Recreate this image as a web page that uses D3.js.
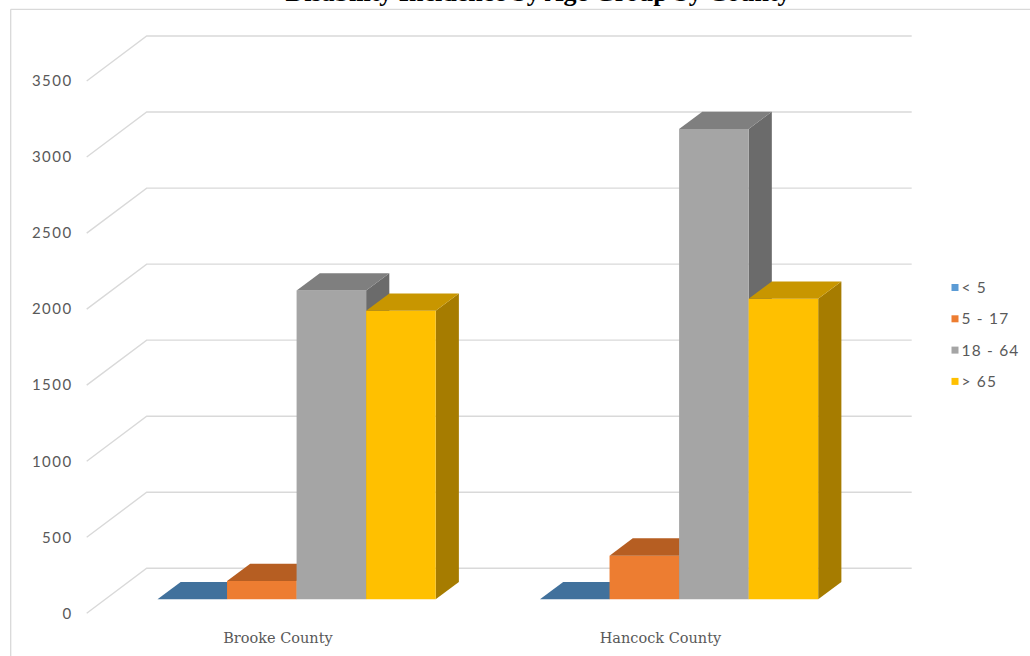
<!DOCTYPE html>
<html>
<head>
<meta charset="utf-8">
<script src="https://cdn.jsdelivr.net/npm/d3@7"></script>
<style>
  html, body { margin: 0; padding: 0; background: #fff; }
  svg { display: block; }
</style>
</head>
<body>
<svg id="chart" width="1030" height="656"></svg>
<script>
// Disability incidence by age group, two West Virginia counties
const counties = ["Brooke County", "Hancock County"];
const ageGroups = ["< 5", "5 - 17", "18 - 64", "> 65"];
const under5 = [0, 0];
const age5to17 = [120, 287];
const age18to64 = [2030, 3092];
const over65 = [1897, 1976];
const yTicks = [0, 500, 1000, 1500, 2000, 2500, 3000, 3500];

const seriesValues = [under5, age5to17, age18to64, over65];
const faceColors = ["#5B9BD5", "#ED7D31", "#A5A5A5", "#FFC000"];
const topColors = ["#41719C", "#B65E22", "#7F7F7F", "#C89600"];
const sideColors = ["#365F85", "#9A4E1B", "#6B6B6B", "#A67C00"];

const svg = d3.select("#chart");

// Oblique 3D projection: back wall plane, depth runs toward the viewer
const wallLeft = 146.7, wallRight = 911.7, wallBase = 568.3, wallTop = 36;
const dirX = -0.8, dirY = 0.6;          // screen shift per unit of depth
const labelDepth = 75;                  // plane of the value labels
const barFront = 51.7, barBack = 22.7;  // depth span of the columns

const y = d3.scaleLinear().domain([0, 3500]).range([wallBase, wallTop]);
const x0 = d3.scaleBand().domain(counties).range([wallLeft, wallRight]).padding(0);
const bw = x0.bandwidth();
const x1 = d3.scaleBand().domain(ageGroups)
  .range([bw * 0.75 / 5.5, bw * 4.75 / 5.5]).padding(0);

const P = (xb, yb, d) => [xb + dirX * d, yb + dirY * d];

// Chart frame
svg.append("line").attr("x1", 10.7).attr("x2", 1030).attr("y1", 9.3).attr("y2", 9.3)
  .attr("stroke", "#d9d9d9").attr("stroke-width", 1.3);
svg.append("line").attr("x1", 10.7).attr("x2", 10.7).attr("y1", 9.3).attr("y2", 656)
  .attr("stroke", "#d9d9d9").attr("stroke-width", 1.3);

// Title (partly above the frame)
svg.append("text")
  .attr("x", 538).attr("y", 1)
  .attr("text-anchor", "middle")
  .attr("font-family", "Liberation Serif, serif")
  .attr("font-weight", "bold")
  .attr("font-size", 26)
  .attr("fill", "#000")
  .text("Disability Incidence by Age Group by County");

// Gridlines: side-wall diagonal + back-wall horizontal
const grid = svg.append("g").attr("fill", "none").attr("stroke", "#d9d9d9").attr("stroke-width", 1.4);
yTicks.forEach(t => {
  const front = P(wallLeft, y(t), labelDepth);
  grid.append("polyline")
    .attr("points", [front, [wallLeft, y(t)], [wallRight, y(t)]].map(p => p.join(",")).join(" "));
});

// Value axis placed on the front label plane
const frontOffset = P(0, 0, labelDepth);
const yAxisG = svg.append("g")
  .attr("transform", `translate(${wallLeft + frontOffset[0] - 14},${frontOffset[1]})`)
  .call(d3.axisLeft(y).tickValues(yTicks).tickFormat(d3.format("d")).tickSize(0).tickPadding(0));
yAxisG.select(".domain").remove();
yAxisG.selectAll("text")
  .attr("font-family", "Lato, sans-serif")
  .attr("font-size", 15)
  .attr("letter-spacing", "1.5px")
  .attr("fill", "#595959");

// Columns, painted left to right so each covers its neighbour's side
const bars = svg.append("g");
counties.forEach((c, ci) => {
  ageGroups.forEach((g, si) => {
    const v = seriesValues[si][ci];
    const xl = x0(c) + x1(g), xr = xl + x1.bandwidth();
    const yb = y(0), yt = y(v);
    const fBL = P(xl, yb, barFront), fBR = P(xr, yb, barFront);
    const fTL = P(xl, yt, barFront), fTR = P(xr, yt, barFront);
    const bTL = P(xl, yt, barBack), bTR = P(xr, yt, barBack), bBR = P(xr, yb, barBack);
    const poly = pts => pts.map(p => p.join(",")).join(" ");
    // right side
    bars.append("polygon").attr("points", poly([fTR, bTR, bBR, fBR])).attr("fill", sideColors[si]);
    // front
    bars.append("polygon").attr("points", poly([fTL, fTR, fBR, fBL])).attr("fill", faceColors[si]);
    // top
    bars.append("polygon").attr("points", poly([fTL, fTR, bTR, bTL])).attr("fill", topColors[si]);
  });
});

// Category labels on the front label plane
const catG = svg.append("g")
  .attr("transform", `translate(${frontOffset[0]},${wallBase + frontOffset[1] + 30})`)
  .call(d3.axisBottom(x0).tickSize(0).tickPadding(0));
catG.select(".domain").remove();
catG.selectAll("text")
  .attr("dy", 0)
  .attr("font-family", "DejaVu Serif, serif")
  .attr("font-size", 14.5)
  .attr("fill", "#595959");

// Legend
const legend = svg.append("g");
ageGroups.forEach((g, i) => {
  const cy = 287.5 + i * 31.3;
  legend.append("rect").attr("x", 951.5).attr("y", cy - 3.5).attr("width", 7).attr("height", 7)
    .attr("fill", faceColors[i]);
  legend.append("text").attr("x", 961.5).attr("y", cy).attr("dy", "0.35em")
    .attr("font-family", "Lato, sans-serif").attr("font-size", 15.5)
    .attr("letter-spacing", "1.2px")
    .attr("fill", "#595959").text(g);
});
</script>
</body>
</html>
